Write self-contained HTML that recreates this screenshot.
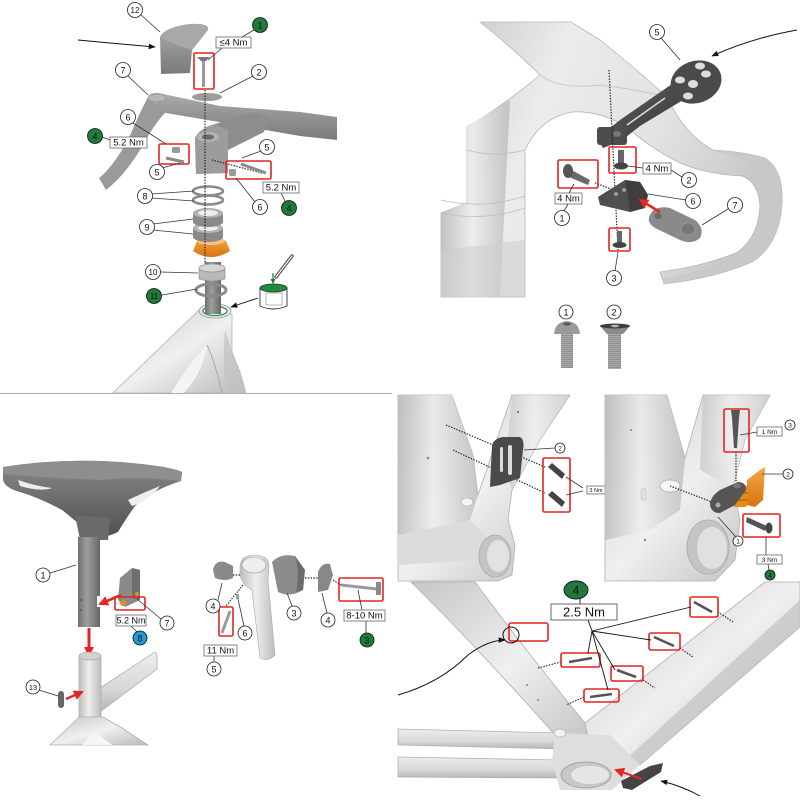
<!DOCTYPE html>
<html><head><meta charset="utf-8"><style>
html,body{margin:0;padding:0;background:#fff;}
svg{display:block;}
text{font-family:"Liberation Sans",sans-serif;text-anchor:middle;fill:#111;}
.c{fill:#fff;stroke:#222;stroke-width:.8}
.g{fill:#1e7b3c;stroke:#111;stroke-width:.8}
.b{fill:#1e9ad6;stroke:#111;stroke-width:.8}
.rb{fill:none;stroke:#e3241f;stroke-width:1.6}
.bx{fill:#fff;stroke:#666;stroke-width:.8}
.ln{stroke:#333;stroke-width:.8;fill:none}
.dot{stroke:#222;stroke-width:1.2;stroke-dasharray:1.4 1.4;fill:none}
.fe{stroke:#b0b0b0;stroke-width:.8}
</style></head><body>
<svg width="800" height="800" viewBox="0 0 800 800" xmlns="http://www.w3.org/2000/svg">
<defs>
<linearGradient id="fr" x1="0" y1="0" x2="1" y2="0"><stop offset="0" stop-color="#bdbdbd"/><stop offset=".45" stop-color="#efefef"/><stop offset="1" stop-color="#bcbcbc"/></linearGradient>
<linearGradient id="frd" x1="0" y1="0" x2="1" y2="1"><stop offset="0" stop-color="#c6c6c6"/><stop offset=".5" stop-color="#f0f0f0"/><stop offset="1" stop-color="#bababa"/></linearGradient>
<linearGradient id="frv" x1="0" y1="0" x2="0" y2="1"><stop offset="0" stop-color="#eeeeee"/><stop offset=".6" stop-color="#d8d8d8"/><stop offset="1" stop-color="#b6b6b6"/></linearGradient>
<linearGradient id="frt" x1="0" y1="0" x2="1" y2="0.3"><stop offset="0" stop-color="#c4c4c4"/><stop offset=".35" stop-color="#ececec"/><stop offset=".7" stop-color="#e2e2e2"/><stop offset="1" stop-color="#c8c8c8"/></linearGradient>
<linearGradient id="gm" x1="0" y1="0" x2="0" y2="1"><stop offset="0" stop-color="#ababab"/><stop offset="1" stop-color="#7a7a7a"/></linearGradient>
<linearGradient id="gh" x1="0" y1="0" x2="1" y2="0"><stop offset="0" stop-color="#707070"/><stop offset=".4" stop-color="#9e9e9e"/><stop offset="1" stop-color="#666"/></linearGradient>
<linearGradient id="dk" x1="0" y1="0" x2="1" y2="1"><stop offset="0" stop-color="#616161"/><stop offset="1" stop-color="#363636"/></linearGradient>
<linearGradient id="or" x1="0" y1="0" x2="0" y2="1"><stop offset="0" stop-color="#f6a64a"/><stop offset="1" stop-color="#d6740e"/></linearGradient>
<linearGradient id="sd" x1="0" y1="0" x2="0" y2="1"><stop offset="0" stop-color="#8a8a8a"/><stop offset="1" stop-color="#505050"/></linearGradient>
<pattern id="th" width="4" height="2" patternUnits="userSpaceOnUse"><rect width="4" height="2" fill="#ababab"/><rect y="1.3" width="4" height=".7" fill="#858585"/></pattern>
<marker id="ab" viewBox="0 0 10 10" refX="9" refY="5" markerWidth="7" markerHeight="7" markerUnits="userSpaceOnUse" orient="auto"><path d="M0,1 L10,5 L0,9 z" fill="#111"/></marker>
<marker id="ar" viewBox="0 0 10 10" refX="8" refY="5" markerWidth="10" markerHeight="10" markerUnits="userSpaceOnUse" orient="auto"><path d="M0,0 L10,5 L0,10 z" fill="#e52521"/></marker>
<marker id="ag" viewBox="0 0 10 10" refX="8" refY="5" markerWidth="5" markerHeight="5" markerUnits="userSpaceOnUse" orient="auto"><path d="M0,0 L10,5 L0,10 z" fill="#1e7b3c"/></marker>
</defs>

<!-- ================= TOP-LEFT PANEL ================= -->
<line x1="0" y1="393.5" x2="392" y2="393.5" stroke="#b0b0b0" stroke-width="1"/>
<path class="fe" d="M198,311 L232,314 L232,352 L240,372 L246,393 L113,393 Z" fill="url(#frd)"/>
<path d="M171,393 Q190,362 207,345 Q203,372 184,393 Z" fill="#f4f4f4"/>
<path d="M207,345 Q215,362 222,393" stroke="#a8a8a8" stroke-width="1" fill="none"/>
<path d="M225,330 L232,352 L240,372 L246,393 L226,393 Q222,360 225,330 Z" fill="#c2c2c2" opacity=".7"/>
<ellipse cx="215" cy="311" rx="16" ry="7" fill="#e4e4e4" stroke="#9a9a9a" stroke-width=".8"/>
<ellipse cx="215" cy="311" rx="12" ry="4.5" fill="#f8f8f8" stroke="#2a8a4a" stroke-width="1.2"/>
<rect x="205" y="262" width="16" height="52" fill="url(#gh)"/>
<ellipse cx="211" cy="290" rx="15" ry="6" fill="none" stroke="#8a8a8a" stroke-width="3"/>
<path d="M199,268 L225,268 L225,279 Q212,283 199,279 Z" fill="#b8b8b8" stroke="#888" stroke-width=".6"/>
<ellipse cx="212" cy="268" rx="13" ry="4" fill="#d5d5d5" stroke="#888" stroke-width=".6"/>
<path d="M193,251 L197,241 Q211,234 226,241 L230,251 Q211,263 193,251 Z" fill="url(#or)"/>
<ellipse cx="211" cy="241" rx="14" ry="4" fill="#f8c27e"/>
<path d="M193,228 v9 a15,5 0 0 0 30,0 v-9 z" fill="#8a8a8a"/>
<ellipse cx="208" cy="228" rx="15" ry="5" fill="#b3b3b3"/><ellipse cx="208" cy="228" rx="10" ry="3" fill="#eee"/>
<path d="M193,213 v9 a15,5 0 0 0 30,0 v-9 z" fill="#8a8a8a"/>
<ellipse cx="208" cy="213" rx="15" ry="5" fill="#b3b3b3"/><ellipse cx="208" cy="213" rx="10" ry="3" fill="#eee"/>
<ellipse cx="208" cy="200" rx="15" ry="4.5" fill="none" stroke="#8a8a8a" stroke-width="2.6"/>
<ellipse cx="208" cy="191" rx="15" ry="4.5" fill="none" stroke="#8a8a8a" stroke-width="2.6"/>
<path d="M148,97 Q140,112 128,140 Q112,168 99,178 L106,190 Q124,176 140,150 Q154,124 166,112 Z" fill="#9a9a9a"/>
<path d="M148,96 Q153,91 163,94 L220,106 L300,112 L337,117 L337,140 L300,136 L225,123 L166,113 Z" fill="url(#gm)"/>
<ellipse cx="157" cy="98" rx="9" ry="4" fill="#b5b5b5" stroke="#888" stroke-width=".5"/>
<path d="M195,138 Q200,128 215,124 L255,112 L270,117 L264,132 L228,150 L228,173 L196,174 Z" fill="#8d8d8d"/>
<path d="M195,138 Q200,128 215,124 L228,130 L228,173 L196,174 Z" fill="#9c9c9c"/>
<ellipse cx="208" cy="137" rx="11" ry="5" fill="#b2b2b2"/><ellipse cx="208" cy="137" rx="6" ry="2.6" fill="#6a6a6a"/>
<path d="M160,37 Q165,27 190,24 Q210,23 208,30 Q200,40 192,50 L190,73 L161,74 Z" fill="url(#gm)"/>
<path d="M160,37 Q165,27 190,24 Q210,23 208,30 Q200,40 192,50 Q175,45 160,37 Z" fill="#a8a8a8"/>
<ellipse cx="207" cy="97" rx="15" ry="4" fill="#9c9c9c"/>
<path d="M197,57 L210,57 L206,61 L201,61 Z" fill="#777"/>
<rect x="202" y="61" width="3" height="26" fill="#9a9a9a"/>
<line class="dot" x1="205" y1="90" x2="205" y2="264"/>
<line class="dot" x1="212" y1="160" x2="262" y2="173"/>
<rect x="172" y="147" width="8" height="6" rx="1.5" fill="#999"/>
<line x1="166" y1="158" x2="184" y2="162" stroke="#8a8a8a" stroke-width="3"/>
<line x1="241" y1="164" x2="266" y2="173" stroke="#8a8a8a" stroke-width="3"/>
<rect x="229" y="169" width="7" height="7" rx="1.5" fill="#999"/>
<rect class="rb" x="194" y="53" width="20" height="36" rx="1.5"/>
<rect class="rb" x="159" y="144" width="30" height="20" rx="1.5"/>
<rect class="rb" x="226" y="161" width="45" height="18" rx="1.5"/>
<path class="ln" d="M141,15 L160,32"/>
<path d="M78,40 Q120,44 155,47" fill="none" stroke="#111" stroke-width="1" marker-end="url(#ab)"/>
<path class="ln" d="M254,30 L242,37 M208,60 L222,48 M253,76 L220,93 M128,76 L148,95 M133,123 L166,144 M102,137 L110,140 M162,168 L180,163 M261,151 L242,158 M255,202 L236,178 M286,203 L281,193 M151,194 L194,191 M151,198 L194,201 M153,224 L193,219 M153,230 L193,234 M161,272 L198,273 M162,295 L197,289"/>
<path d="M260,288 L260,306 Q273,312 287,306 L287,288 Z" fill="#fff" stroke="#333" stroke-width=".9"/>
<rect x="266" y="293" width="16" height="12" fill="#fff" stroke="#777" stroke-width=".5"/>
<ellipse cx="273.5" cy="288" rx="13.5" ry="4" fill="#1f8a3f" stroke="#333" stroke-width=".8"/>
<line x1="276" y1="277" x2="292" y2="256" stroke="#333" stroke-width="3.2" stroke-linecap="round"/>
<line x1="276" y1="277" x2="292" y2="256" stroke="#fff" stroke-width="1.4" stroke-linecap="round"/>
<line x1="273" y1="273" x2="273" y2="283" stroke="#1e7b3c" stroke-width="1.2" marker-end="url(#ag)"/>
<line x1="258" y1="298" x2="231" y2="307" stroke="#111" stroke-width=".9" marker-end="url(#ab)"/>
<circle class="c" cx="135" cy="10" r="7.5"/><text x="135" y="13" font-size="8">12</text>
<circle class="c" cx="123" cy="70" r="7.5"/><text x="123" y="73.3" font-size="9">7</text>
<circle class="c" cx="259" cy="72" r="7.5"/><text x="259" y="75.3" font-size="9">2</text>
<circle class="c" cx="128" cy="117" r="7.5"/><text x="128" y="120.3" font-size="9">6</text>
<circle class="c" cx="157" cy="172" r="7.5"/><text x="157" y="175.3" font-size="9">5</text>
<circle class="c" cx="267" cy="147" r="7.5"/><text x="267" y="150.3" font-size="9">5</text>
<circle class="c" cx="260" cy="207" r="7.5"/><text x="260" y="210.3" font-size="9">6</text>
<circle class="c" cx="145" cy="196" r="7.5"/><text x="145" y="199.3" font-size="9">8</text>
<circle class="c" cx="147" cy="227" r="7.5"/><text x="147" y="230.3" font-size="9">9</text>
<circle class="c" cx="153" cy="272" r="7.5"/><text x="153" y="275" font-size="8">10</text>
<circle class="g" cx="260" cy="25" r="7.5"/><text x="260" y="28.3" font-size="9">1</text>
<circle class="g" cx="95" cy="136" r="7.5"/><text x="95" y="139.3" font-size="9">4</text>
<circle class="g" cx="289" cy="208" r="7.5"/><text x="289" y="211.3" font-size="9">4</text>
<circle class="g" cx="154" cy="296" r="7.5"/><text x="154" y="299" font-size="8">11</text>
<rect class="bx" x="216" y="37" width="35" height="11"/><text x="233.5" y="45.6" font-size="9.5">≤4 Nm</text>
<rect class="bx" x="110" y="137" width="37" height="11"/><text x="128.5" y="145.6" font-size="9.5">5.2 Nm</text>
<rect class="bx" x="263" y="182" width="36" height="11"/><text x="281" y="190.6" font-size="9.5">5.2 Nm</text>

<!-- ================= TOP-RIGHT PANEL ================= -->
<path d="M480,22 L571,22 L600,40 L633,67 L667,97 Q685,135 713,150 Q745,152 765,158 Q784,170 782,205 Q779,245 752,262 Q715,278 664,284 L660,272 Q705,266 738,252 Q759,236 760,205 Q758,182 742,176 Q705,174 680,163 Q650,148 628,128 Q600,110 572,112 Q540,118 525,150 L525,297 L441,297 L441,213 L467,203 L467,127 Q500,108 540,75 Q515,50 480,22 Z" fill="url(#frt)" stroke="#b5b5b5" stroke-width=".8"/>
<path d="M441,213 L467,203 L467,127 Q490,112 510,100 L500,297 L441,297 Z" fill="url(#fr)" opacity=".85"/>
<path d="M441,250 L525,240 L525,297 L441,297 Z" fill="#cfcfcf" opacity=".6"/>
<path d="M713,150 Q745,152 765,158 Q784,170 782,205 Q779,245 752,262 Q715,278 664,284 L664,278 Q712,270 745,254 Q770,232 772,205 Q772,172 745,160 Z" fill="#c8c8c8" opacity=".7"/>
<path d="M467,150 Q495,158 525,150 M441,200 Q483,210 525,196 M441,213 Q483,222 525,208" stroke="#bdbdbd" stroke-width=".8" fill="none"/>
<path d="M540,75 Q560,90 600,85 Q640,90 667,97" stroke="#c8c8c8" stroke-width="1" fill="none"/>
<path d="M597,138 L620,120 L672,84 L683,100 L640,126 L621,141 L603,148 Z" fill="url(#dk)"/>
<line x1="627" y1="125" x2="665" y2="98" stroke="#ddd" stroke-width="1.5"/>
<ellipse cx="696" cy="82" rx="26" ry="21" transform="rotate(-20 696 82)" fill="#4a4a4a"/>
<ellipse cx="693" cy="84" rx="5" ry="4" fill="#ddd"/>
<ellipse cx="680" cy="80" rx="5" ry="3.5" fill="#ddd"/><ellipse cx="706" cy="74" rx="5" ry="3.5" fill="#ddd"/>
<ellipse cx="688" cy="96" rx="5" ry="3.5" fill="#ddd"/><ellipse cx="700" cy="66" rx="5" ry="3.5" fill="#ddd"/>
<rect x="597" y="127" width="30" height="18" rx="3" fill="#4d4d4d"/>
<ellipse cx="617" cy="134" rx="4" ry="3" fill="#777"/>
<line class="dot" x1="609" y1="70" x2="618" y2="250"/>
<path d="M797,30 Q752,38 712,56" fill="none" stroke="#111" stroke-width="1" marker-end="url(#ab)"/>
<rect x="618" y="150" width="6" height="13" fill="#666"/><ellipse cx="621" cy="166" rx="7" ry="3.5" fill="#444"/>
<path d="M566,167 L590,180 L588,185 L564,175 Z" fill="#6a6a6a"/><ellipse cx="568" cy="171" rx="5" ry="7" fill="#555"/>
<line class="dot" x1="595" y1="183" x2="640" y2="200"/>
<path d="M598,197 L625,180 L640,182 L648,195 L645,208 L630,212 L600,205 Z" fill="#4f4f4f"/>
<path d="M625,180 L640,182 L648,195 L645,208 L630,212 L628,195 Z" fill="#3e3e3e"/>
<circle cx="616" cy="194" r="2" fill="#999"/><circle cx="624" cy="190" r="2" fill="#999"/>
<path d="M650,215 Q655,205 670,208 L695,220 Q705,228 700,238 Q692,245 680,240 L655,228 Q646,222 650,215 Z" fill="#8a8a8a"/>
<ellipse cx="658" cy="216" rx="3.5" ry="3" fill="#6a6a6a"/><ellipse cx="688" cy="229" rx="7" ry="6" fill="#777" stroke="#999" stroke-width=".8"/>
<line x1="660" y1="212" x2="640" y2="200" stroke="#e52521" stroke-width="2.6" marker-end="url(#ar)"/>
<rect x="617" y="231" width="5" height="12" fill="#666"/><ellipse cx="619.5" cy="245" rx="7" ry="3" fill="#444"/>
<rect class="rb" x="609" y="147" width="27" height="26" rx="1.5"/>
<rect class="rb" x="558" y="160" width="40" height="28" rx="1.5"/>
<rect class="rb" x="609" y="228" width="21" height="23" rx="1.5"/>
<path class="ln" d="M661,38 L680,60 M628,166 L643,168 M671,170 L682,177 M574,184 L569,193 M568,204 L564,211 M686,200 L648,194 M728,209 L702,225 M615,271 L618,252"/>
<rect class="bx" x="643" y="163" width="28" height="11"/><text x="657" y="171.6" font-size="9.5">4 Nm</text>
<rect class="bx" x="555" y="193" width="27" height="11"/><text x="568.5" y="201.6" font-size="9.5">4 Nm</text>
<circle class="c" cx="657" cy="32" r="7.5"/><text x="657" y="35.3" font-size="9">5</text>
<circle class="c" cx="689" cy="180" r="7.5"/><text x="689" y="183.3" font-size="9">2</text>
<circle class="c" cx="562" cy="218" r="7.5"/><text x="562" y="221.3" font-size="9">1</text>
<circle class="c" cx="693" cy="201" r="7.5"/><text x="693" y="204.3" font-size="9">6</text>
<circle class="c" cx="735" cy="205" r="7.5"/><text x="735" y="208.3" font-size="9">7</text>
<circle class="c" cx="614" cy="278" r="7.5"/><text x="614" y="281.3" font-size="9">3</text>
<circle class="c" cx="566" cy="312" r="7"/><text x="566" y="315.3" font-size="9">1</text>
<circle class="c" cx="614" cy="312" r="7"/><text x="614" y="315.3" font-size="9">2</text>
<rect x="561" y="332" width="12" height="36" fill="url(#th)"/>
<path d="M554,334 Q555,322 567,321 Q579,322 580,334 Z" fill="#9a9a9a"/>
<ellipse cx="567" cy="324" rx="4" ry="1.5" fill="#555"/>
<rect x="608" y="333" width="13" height="36" fill="url(#th)"/>
<path d="M600,326 L630,326 L623,334 L607,334 Z" fill="#8a8a8a"/>
<ellipse cx="615" cy="326" rx="15" ry="2.5" fill="#3e3e3e"/><ellipse cx="615" cy="326" rx="4" ry="1.2" fill="#bbb"/>

<!-- ================= BOTTOM-LEFT PANEL ================= -->
<path d="M3,467 Q60,458 120,462 Q170,466 182,472 L181,481 Q150,491 135,506 Q125,520 118,532 Q100,541 88,532 Q75,520 62,510 Q40,498 20,492 Q5,488 3,480 Z" fill="url(#sd)"/>
<path d="M3,467 Q60,458 120,462 Q170,466 182,472 L181,481 Q140,476 100,480 Q50,478 3,474 Z" fill="#8e8e8e"/>
<path d="M18,480 Q35,486 52,488 Q40,492 20,486 Z" fill="#eee"/>
<path d="M128,500 Q145,492 160,486 Q150,500 132,506 Z" fill="#eee"/>
<path d="M75,515 L110,518 L108,540 L80,540 Z" fill="#6a6a6a"/>
<rect x="78" y="537" width="22" height="90" fill="url(#gh)"/>
<rect x="97" y="596" width="4" height="11" fill="#fff"/>
<circle cx="81" cy="600" r=".8" fill="#444"/><circle cx="81" cy="610" r=".8" fill="#444"/>
<path d="M120,578 L132,568 L140,570 L140,600 L125,607 L118,600 Z" fill="#8a8a8a"/>
<path d="M132,568 L140,570 L140,600 L132,598 Z" fill="#6e6e6e"/>
<circle cx="123" cy="603" r="3" fill="#e88a1a"/><circle cx="137" cy="594" r="2" fill="#e88a1a"/>
<line x1="121" y1="595" x2="100" y2="604" stroke="#e52521" stroke-width="2.6" marker-end="url(#ar)"/>
<rect class="rb" x="115" y="597" width="30" height="13" rx="1.5"/>
<line x1="89" y1="628" x2="89" y2="655" stroke="#e52521" stroke-width="3" marker-end="url(#ar)"/>
<path class="fe" d="M100,688 L155,652 L157,655 L157,669 L100,712 Z" fill="url(#frv)"/>
<rect class="fe" x="79" y="656" width="22" height="64" fill="url(#fr)"/>
<ellipse cx="90" cy="656" rx="11" ry="4" fill="#d2d2d2" stroke="#999" stroke-width=".6"/>
<path class="fe" d="M79,717 L103,717 L122,728 L148,745 L50,745 L66,730 Z" fill="url(#frd)"/>
<path d="M82,745 L94,731 L112,745 Z" fill="#f6f6f6"/>
<rect x="58" y="691" width="6" height="17" rx="3" fill="#666"/>
<line x1="66" y1="699" x2="82" y2="692" stroke="#e52521" stroke-width="2.4" marker-end="url(#ar)"/>
<path class="ln" d="M50,573 L76,565 M161,619 L137,599 M131,626 L137,632 M39,690 L58,696"/>
<circle class="c" cx="43" cy="575" r="7"/><text x="43" y="578.3" font-size="9">1</text>
<circle class="c" cx="167" cy="623" r="7"/><text x="167" y="626.3" font-size="9">7</text>
<circle class="c" cx="33" cy="687" r="7"/><text x="33" y="689.8" font-size="7.5">13</text>
<circle class="b" cx="140" cy="638" r="7"/><text x="140" y="641.3" font-size="9">8</text>
<rect class="bx" x="116" y="615" width="30" height="11"/><text x="131" y="623.6" font-size="9">5.2 Nm</text>
<path d="M213,570 Q215,560 225,562 L233,566 L233,578 Q225,582 215,578 Z" fill="#8a8a8a"/>
<path d="M240,568 Q240,555 254,555 Q268,555 269,565 L268,580 L275,655 Q268,662 260,658 L252,590 Q242,585 240,575 Z" fill="url(#fr)" stroke="#aaa" stroke-width=".6"/>
<ellipse cx="254" cy="565" rx="12" ry="8" fill="#eee" stroke="#999" stroke-width=".6"/>
<path d="M272,562 Q280,553 295,556 L305,570 L303,590 Q290,598 278,592 Z" fill="#8c8c8c"/>
<path d="M295,556 L305,570 L303,590 L296,592 Q300,573 295,556 Z" fill="#6c6c6c"/>
<path d="M318,572 Q322,562 330,564 L333,575 L328,590 L318,592 Z" fill="#888"/>
<line x1="341" y1="585" x2="377" y2="589" stroke="#9a9a9a" stroke-width="3"/>
<rect x="376" y="582" width="5" height="13" rx="1" fill="#888"/>
<line x1="222" y1="633" x2="230" y2="611" stroke="#9a9a9a" stroke-width="3"/>
<rect x="236" y="594" width="3" height="5" fill="#999"/>
<path class="dot" d="M233,575 L241,575 M305,578 L318,578 M333,580 L341,585 M243,585 L226,606"/>
<rect class="rb" x="339" y="578" width="44" height="23" rx="1.5"/>
<rect class="rb" x="219" y="607" width="14" height="29" rx="1.5"/>
<path class="ln" d="M218,600 L222,583 M214,656 L214,662 M244,626 L238,599 M292,606 L287,593 M327,613 L322,593 M362,610 L358,590 M366,621 L366,633"/>
<rect class="bx" x="204" y="645" width="33" height="11"/><text x="220.5" y="653.6" font-size="9.5">11 Nm</text>
<rect class="bx" x="344" y="610" width="41" height="11"/><text x="364.5" y="618.6" font-size="9.5">8-10 Nm</text>
<circle class="c" cx="213" cy="606" r="7"/><text x="213" y="609.3" font-size="9">4</text>
<circle class="c" cx="214" cy="669" r="7"/><text x="214" y="672.3" font-size="9">5</text>
<circle class="c" cx="245" cy="633" r="7"/><text x="245" y="636.3" font-size="9">6</text>
<circle class="c" cx="294" cy="613" r="7"/><text x="294" y="616.3" font-size="9">3</text>
<circle class="c" cx="328" cy="620" r="7"/><text x="328" y="623.3" font-size="9">4</text>
<circle class="g" cx="367" cy="640" r="7"/><text x="367" y="643.3" font-size="9">3</text>

<!-- ================= PANEL A ================= -->
<path class="fe" d="M398,395 L452,395 L473,455 L478,495 L512,395 L570,395 L540,440 L512,490 L508,520 L515,545 L512,575 L498,581 L398,581 Z" fill="url(#frd)"/>
<path d="M398,395 L452,395 L473,455 L478,495 L470,520 L430,528 L398,540 Z" fill="url(#fr)" opacity=".8"/>
<path d="M398,535 L470,520 L490,540 L480,560 L398,565 Z" fill="#dcdcdc"/>
<path d="M512,395 L570,395 L540,440 L512,490 L505,470 Z" fill="url(#fr)" opacity=".6"/>
<ellipse cx="495" cy="556" rx="16" ry="21" fill="#c4c4c4" stroke="#aaa" stroke-width=".8"/>
<ellipse cx="498" cy="556" rx="11" ry="16" fill="#e2e2e2"/>
<circle cx="518" cy="412" r="1" fill="#555"/><circle cx="428" cy="458" r="1.3" fill="#888"/>
<ellipse cx="467" cy="502" rx="6" ry="4" fill="#f4f4f4" stroke="#aaa" stroke-width=".6"/>
<path class="dot" d="M446,425 L545,467 M453,450 L545,493"/>
<path d="M492,445 Q495,437 505,437 L520,437 Q525,440 523,450 L520,478 L500,485 L490,487 Z" fill="#4a4a4a"/>
<rect x="500" y="447" width="3" height="25" rx="1.5" fill="#ddd"/><rect x="508" y="445" width="4" height="30" rx="2" fill="#ddd"/>
<path d="M548,467 L552,463 L565,474 L562,479 Z" fill="#444"/>
<path d="M548,495 L552,491 L565,502 L562,507 Z" fill="#444"/>
<rect class="rb" x="543" y="458" width="27" height="54" rx="1.5"/>
<path class="ln" d="M524,450 L555,448 M583,488 L566,477 M583,491 L566,495"/>
<circle class="c" cx="560" cy="448" r="5"/><text x="560" y="450.3" font-size="6">2</text>
<rect class="bx" x="587" y="486" width="18" height="8"/><text x="596" y="492" font-size="5.5">3 Nm</text>

<!-- ================= PANEL B ================= -->
<path class="fe" d="M605,395 L667,395 L685,458 L703,395 L770,395 L745,440 L733,488 L740,520 L735,560 L715,581 L605,581 Z" fill="url(#frd)"/>
<path d="M605,395 L667,395 L685,458 L680,510 L650,530 L605,540 Z" fill="url(#fr)" opacity=".8"/>
<path d="M703,395 L770,395 L745,440 L733,488 L700,470 Z" fill="url(#fr)" opacity=".6"/>
<ellipse cx="708" cy="547" rx="21" ry="27" fill="#c4c4c4" stroke="#aaa" stroke-width=".8"/>
<ellipse cx="712" cy="548" rx="15" ry="21" fill="#e0e0e0"/>
<ellipse cx="670" cy="486" rx="10" ry="6" fill="#f6f6f6" stroke="#aaa" stroke-width=".7"/>
<rect x="641" y="488" width="5" height="12" rx="2" fill="#e0e0e0" stroke="#bbb" stroke-width=".5"/>
<circle cx="631" cy="430" r="1" fill="#888"/><circle cx="645" cy="540" r="1.2" fill="#888"/>
<line class="dot" x1="670" y1="486" x2="712" y2="502"/>
<line class="dot" x1="736" y1="452" x2="736" y2="482"/>
<path d="M731,410 L740,410 L739,418 L737,448 L734,448 L732,418 Z" fill="#555"/>
<path d="M747,480 L760,470 L765,467 L763,500 L755,507 L747,505 Z" fill="url(#or)"/>
<rect x="732" y="485" width="16" height="22" rx="4" fill="#e8891a"/>
<line x1="732" y1="493" x2="748" y2="493" stroke="#8a4a0a" stroke-width=".8"/><line x1="732" y1="500" x2="748" y2="500" stroke="#8a4a0a" stroke-width=".8"/>
<path d="M710,503 Q712,495 720,490 L738,482 Q746,482 746,490 L735,505 L720,513 Q710,513 710,503 Z" fill="#555"/>
<circle cx="718" cy="505" r="2.5" fill="#aaa"/><ellipse cx="737" cy="486" rx="4" ry="2.5" fill="#777"/>
<path d="M747,517 L767,526 L765,531 L746,522 Z" fill="#555"/><ellipse cx="769" cy="528" rx="3.5" ry="5.5" fill="#444"/>
<rect class="rb" x="724" y="409" width="25" height="43" rx="1.5"/>
<rect class="rb" x="743" y="514" width="37" height="23" rx="1.5"/>
<path class="ln" d="M740,435 L757,432 M762,474 L783,474 M718,517 L736,537 M766,537 L766,555 M768,564 L769,570"/>
<rect class="bx" x="757" y="427" width="25" height="9"/><text x="769.5" y="434" font-size="6.5">1 Nm</text>
<rect class="bx" x="757" y="555" width="25" height="9"/><text x="769.5" y="562" font-size="6.5">3 Nm</text>
<circle class="c" cx="790" cy="425" r="5"/><text x="790" y="427.3" font-size="6.5">3</text>
<circle class="c" cx="788" cy="474" r="5"/><text x="788" y="476.3" font-size="6.5">2</text>
<circle class="c" cx="738" cy="541" r="5"/><text x="738" y="543.3" font-size="6.5">1</text>
<circle class="g" cx="770" cy="575" r="5"/><text x="770" y="577.3" font-size="6.5">4</text>

<!-- ================= BOTTOM PANEL ================= -->
<path class="fe" d="M411,582 L475,582 Q525,650 585,723 L610,740 L600,755 L555,735 Q480,650 411,582 Z" fill="url(#frd)"/>
<path class="fe" d="M765,582 L800,582 L800,627 L640,765 L612,770 L590,745 L585,723 Z" fill="url(#frd)"/>
<path d="M800,600 L800,627 L640,765 L625,760 Z" fill="#c2c2c2" opacity=".7"/>
<path class="fe" d="M398,729 L560,733 L566,749 L398,745 Z" fill="url(#frv)"/>
<path class="fe" d="M398,757 L560,760 L562,778 L398,777 Z" fill="url(#frv)"/>
<path d="M555,733 L610,735 L640,765 L612,790 L560,790 L552,760 Z" fill="#dedede"/>
<ellipse cx="586" cy="775" rx="25" ry="13" fill="#c8c8c8" stroke="#999" stroke-width=".8"/>
<ellipse cx="590" cy="775" rx="19" ry="9" fill="#e6e6e6"/>
<ellipse cx="560" cy="733" rx="6" ry="4" fill="#f2f2f2" stroke="#aaa" stroke-width=".6"/>
<circle cx="527" cy="685" r="1" fill="#888"/><circle cx="538" cy="700" r="1" fill="#888"/>
<path class="dot" d="M718,612 L733,622 M680,648 L693,657 M561,662 L538,668 M643,680 L655,688 M584,697 L566,705"/>
<line x1="694" y1="602" x2="712" y2="612" stroke="#555" stroke-width="2.6"/>
<line x1="654" y1="637" x2="674" y2="646" stroke="#555" stroke-width="2.6"/>
<line x1="569" y1="662" x2="592" y2="658" stroke="#555" stroke-width="2.6"/>
<line x1="617" y1="670" x2="636" y2="677" stroke="#555" stroke-width="2.6"/>
<line x1="590" y1="697" x2="612" y2="694" stroke="#555" stroke-width="2.6"/>
<rect class="rb" x="690" y="597" width="28" height="20" rx="2"/>
<rect class="rb" x="649" y="633" width="31" height="17" rx="2"/>
<rect class="rb" x="561" y="653" width="39" height="14" rx="2"/>
<rect class="rb" x="611" y="666" width="32" height="15" rx="2"/>
<rect class="rb" x="584" y="689" width="35" height="13" rx="2"/>
<rect class="rb" x="509" y="623" width="39" height="18" rx="2"/>
<circle cx="511" cy="635" r="8" fill="none" stroke="#111" stroke-width="1"/>
<path d="M398,695 Q440,683 468,655 Q488,640 505,640" fill="none" stroke="#111" stroke-width="1" marker-end="url(#ab)"/>
<path d="M592,631 L691,607 M592,631 L651,640 M592,631 L588,653 M592,631 L615,670 M592,631 L608,690 M588,620 L592,631" stroke="#111" stroke-width=".9" fill="none"/>
<line x1="580" y1="599" x2="580" y2="604" stroke="#111" stroke-width=".9"/>
<ellipse cx="576" cy="590" rx="12" ry="9" fill="#1e7b3c" stroke="#111" stroke-width=".9"/><text x="576" y="594.5" font-size="12">4</text>
<rect x="551" y="604" width="66" height="16" fill="#fff" stroke="#555" stroke-width=".9"/><text x="584" y="616.5" font-size="13">2.5 Nm</text>
<path d="M621,781 L650,766 L663,763 L661,772 L632,790 L623,788 Z" fill="#444"/>
<line x1="642" y1="779" x2="616" y2="770" stroke="#e52521" stroke-width="2" marker-end="url(#ar)"/>
<path d="M700,796 Q682,786 661,781" fill="none" stroke="#111" stroke-width="1" marker-end="url(#ab)"/>
</svg>
</body></html>
